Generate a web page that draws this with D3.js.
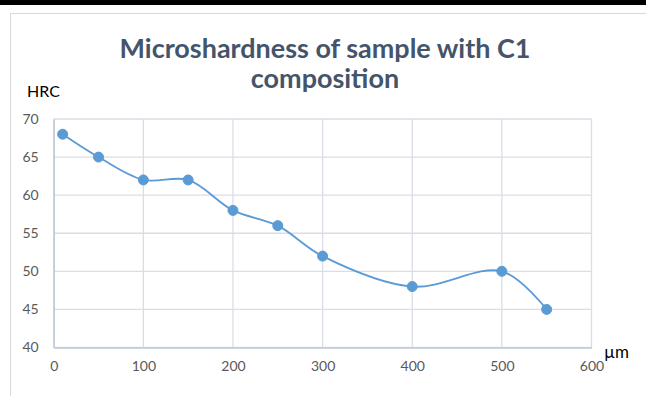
<!DOCTYPE html>
<html>
<head>
<meta charset="utf-8">
<script src="https://cdn.jsdelivr.net/npm/d3@7"></script>
<style>
  body { margin: 0; background: #fff; }
  svg { display: block; }
</style>
</head>
<body>
<svg id="chart" width="646" height="396"></svg>
<script>
// data
const depths = [10, 50, 100, 150, 200, 250, 300, 400, 500, 550];
const hardness = [68, 65, 62, 62, 58, 56, 52, 48, 50, 45];
const xTicks = [0, 100, 200, 300, 400, 500, 600];
const yTicks = [40, 45, 50, 55, 60, 65, 70];
const titleLines = ['Microshardness of sample with C1', 'composition'];

const svg = d3.select('#chart');
const W = 646, H = 396;
const FONT = 'Lato, "Open Sans", sans-serif';
const plot = {left: 53.7, right: 591.5, top: 119, bottom: 347.5};

// page frame
svg.append('rect').attr('x', 0).attr('y', 0).attr('width', W).attr('height', 5).attr('fill', '#000');
svg.append('rect')
    .attr('x', 10.5).attr('y', 13.5).attr('width', W - 8).attr('height', H)
    .attr('fill', 'none').attr('stroke', '#D9D9D9').attr('stroke-width', 1);

const x = d3.scaleLinear().domain([0, 600]).range([plot.left, plot.right]);
const y = d3.scaleLinear().domain([40, 70]).range([plot.bottom, plot.top]);

// gridlines
const grid = svg.append('g').attr('stroke', '#D9DEE6').attr('stroke-width', 1.3);
grid.selectAll('line.h').data(yTicks).enter().append('line')
    .attr('x1', plot.left).attr('x2', plot.right)
    .attr('y1', d => y(d)).attr('y2', d => y(d));
grid.selectAll('line.v').data(xTicks).enter().append('line')
    .attr('y1', plot.top).attr('y2', plot.bottom)
    .attr('x1', d => x(d)).attr('x2', d => x(d));

// axes
const yAxis = svg.append('g').attr('transform', `translate(${plot.left},0)`)
    .call(d3.axisLeft(y).tickValues(yTicks).tickSize(0).tickPadding(15));
const xAxis = svg.append('g').attr('transform', `translate(0,${plot.bottom})`)
    .call(d3.axisBottom(x).tickValues(xTicks).tickSize(0).tickPadding(14));
[yAxis, xAxis].forEach(a => {
    a.select('.domain').attr('stroke', '#BFC8D6').attr('stroke-width', 1.5);
    a.selectAll('text').attr('fill', '#595959').attr('font-size', 14)
        .attr('font-family', FONT);
});

// series line
const pts = depths.map((d, i) => [x(d), y(hardness[i])]);
const line = d3.line().curve(d3.curveCatmullRom.alpha(0.5));
svg.append('path').attr('d', line(pts))
    .attr('fill', 'none').attr('stroke', '#5B9BD5').attr('stroke-width', 1.8);
svg.append('g').selectAll('circle').data(pts).enter().append('circle')
    .attr('cx', d => d[0]).attr('cy', d => d[1]).attr('r', 5)
    .attr('fill', '#5B9BD5').attr('stroke', '#5B9BD5');

// title
const title = svg.append('g').selectAll('text').data(titleLines).enter().append('text')
    .attr('x', 325).attr('y', (d, i) => 58 + i * 30)
    .attr('text-anchor', 'middle')
    .attr('font-family', FONT).attr('font-weight', 'bold')
    .attr('font-size', 26).attr('fill', '#44546A')
    .text(d => d);
// fit first line to the width seen in the picture
const w0 = title.node().getComputedTextLength();
title.attr('font-size', 26 * 411 / w0);

// axis names
svg.append('text').attr('x', 27).attr('y', 97)
    .attr('font-family', FONT).attr('font-size', 16)
    .attr('fill', '#000').text('HRC');
svg.append('text').attr('x', 604).attr('y', 358)
    .attr('font-family', FONT).attr('font-size', 17)
    .attr('fill', '#000').text('µm');
</script>
</body>
</html>
